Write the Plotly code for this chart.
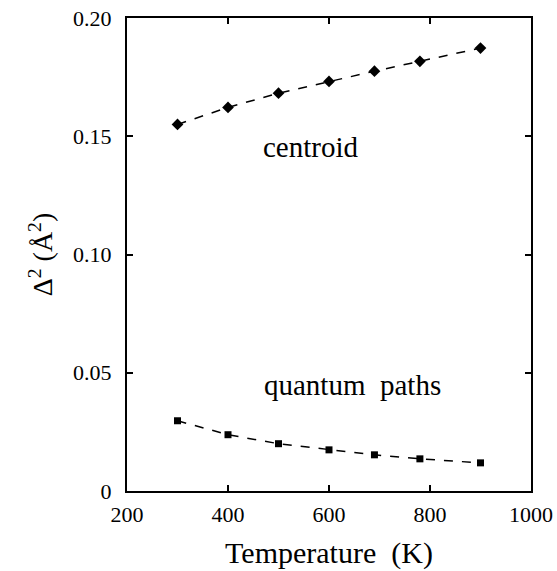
import plotly.graph_objects as go

temps_centroid = [300, 400, 500, 600, 690, 780, 900]
centroid = [0.155, 0.1622, 0.1682, 0.1732, 0.1775, 0.1817, 0.1873]
temps_quantum = [300, 400, 500, 600, 690, 780, 900]
quantum = [0.0297, 0.0238, 0.0200, 0.0174, 0.0153, 0.0136, 0.0119]

x_ticks = [200, 400, 600, 800, 1000]
y_ticks = [0, 0.05, 0.10, 0.15, 0.20]
y_ticklabels = ["0", "0.05", "0.10", "0.15", "0.20"]

font = "Times New Roman, Liberation Serif, DejaVu Serif, serif"

fig = go.Figure()
fig.add_trace(go.Scatter(x=temps_centroid, y=centroid, mode="lines+markers",
                         line=dict(color="black", width=1.5, dash="dash"),
                         marker=dict(symbol="diamond", size=9, color="black"),
                         showlegend=False))
fig.add_trace(go.Scatter(x=temps_quantum, y=quantum, mode="lines+markers",
                         line=dict(color="black", width=1.5, dash="dash"),
                         marker=dict(symbol="square", size=7, color="black"),
                         showlegend=False))

fig.add_annotation(x=0.455, y=0.1456, xref="paper", yref="y", text="centroid",
                   showarrow=False, font=dict(family=font, size=29, color="black"))
fig.add_annotation(x=0.557, y=0.045, xref="paper", yref="y", text="quantum  paths",
                   showarrow=False, font=dict(family=font, size=29, color="black"))

axis_common = dict(showline=True, linecolor="black", linewidth=2, mirror="ticks",
                   ticks="inside", ticklen=6, tickwidth=2, tickcolor="black",
                   showgrid=False, zeroline=False, automargin=False,
                   tickfont=dict(family=font, size=22, color="black"))

fig.update_xaxes(range=[200, 1000], tickvals=x_ticks,
                 title=dict(text="Temperature  (K)", font=dict(family=font, size=30, color="black"),
                            standoff=16),
                 ticklabelstandoff=3, **axis_common)
fig.update_yaxes(range=[0, 0.20], tickvals=y_ticks, ticktext=y_ticklabels,
                 title=dict(text="Δ<sup>2</sup> (Å<sup>2</sup>)", font=dict(family=font, size=28, color="black"),
                            standoff=12),
                 ticklabelstandoff=9, **axis_common)

fig.update_layout(width=557, height=571, margin=dict(l=127, r=26, t=18, b=80),
                  plot_bgcolor="white", paper_bgcolor="white",
                  font=dict(family=font))

fig.write_html("out.html")
